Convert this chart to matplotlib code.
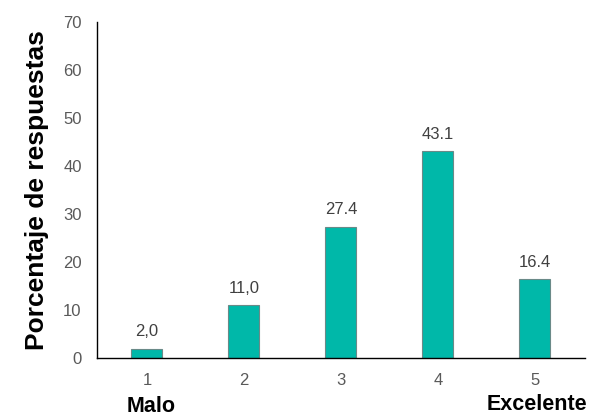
import matplotlib
matplotlib.use("Agg")
import matplotlib.pyplot as plt

categories = ["1", "2", "3", "4", "5"]
values = [2.0, 11.0, 27.4, 43.1, 16.4]
value_labels = ["2,0", "11,0", "27.4", "43.1", "16.4"]
y_ticks = [0, 10, 20, 30, 40, 50, 60, 70]

plt.rcParams['font.family'] = ['Liberation Sans', 'DejaVu Sans']

fig = plt.figure(figsize=(5.95, 4.16), dpi=100)
ax = fig.add_axes([0.163, 0.139, 0.82, 0.808])

x = list(range(1, len(categories) + 1))
bars = ax.bar(x, values, width=0.32, color='#00B8A9', edgecolor='#6a8a88', linewidth=0.8, zorder=2)
for xi, v, lab in zip(x, values, value_labels):
    ax.text(xi, v + 2.0, lab, ha='center', va='bottom', fontsize=12, color='#404040')

ax.set_xlim(0.485, 5.515)
ax.set_ylim(0, 70)
ax.set_yticks(y_ticks)
ax.set_xticks(x)
ax.set_xticklabels(categories)
ax.tick_params(axis='both', length=0, labelsize=12, labelcolor='#595959')
ax.tick_params(axis='y', pad=11)
ax.tick_params(axis='x', pad=11)
for s in ['top', 'right']:
    ax.spines[s].set_visible(False)
ax.spines['left'].set_color('#000000')
ax.spines['bottom'].set_color('#000000')
ax.spines['left'].set_linewidth(1.0)
ax.spines['bottom'].set_linewidth(1.0)

ax.set_ylabel('Porcentaje de respuestas', fontsize=19, fontweight='bold', color='#000000', labelpad=10)

fig.text(151/595, 1 - 406/416, 'Malo', ha='center', va='center', fontsize=15.5, fontweight='bold', color='#000000')
fig.text(587/595, 1 - 404/416, 'Excelente', ha='right', va='center', fontsize=15.5, fontweight='bold', color='#000000')

fig.savefig('out.png', dpi=100)
